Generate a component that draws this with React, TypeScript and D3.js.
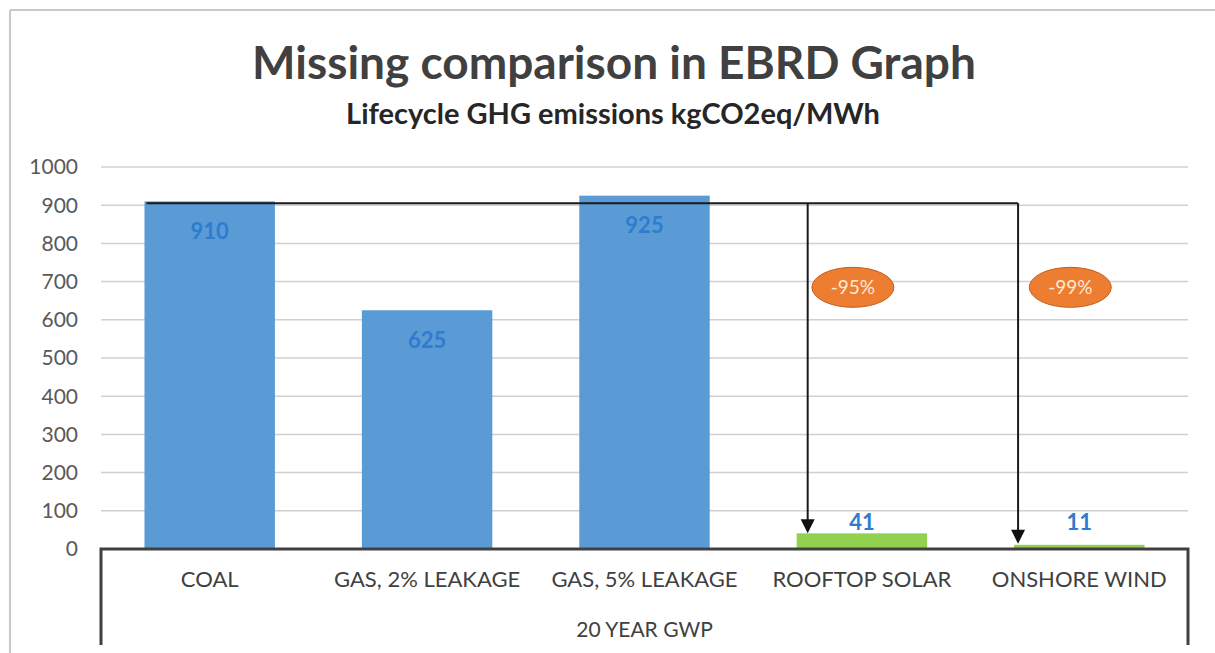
import React from "react";
import * as d3 from "d3";

const categories = ["COAL", "GAS, 2% LEAKAGE", "GAS, 5% LEAKAGE", "ROOFTOP SOLAR", "ONSHORE WIND"];
const values = [910, 625, 925, 41, 11];
const barColors = ["#5B9BD5", "#5B9BD5", "#5B9BD5", "#92D050", "#92D050"];
const yTicks = [0, 100, 200, 300, 400, 500, 600, 700, 800, 900, 1000];
const reductions = [
  { from: "COAL", to: "ROOFTOP SOLAR", label: "-95%" },
  { from: "COAL", to: "ONSHORE WIND", label: "-99%" },
];
const groupLabel = "20 YEAR GWP";
const title = "Missing comparison in EBRD Graph";
const subtitle = "Lifecycle GHG emissions kgCO2eq/MWh";

const W = 1215;
const H = 653;
const font = "Lato, Calibri, 'Open Sans', sans-serif";
const arrowOffsets = [11, 4];

export default function App() {
  const left = 101;
  const right = 1188;
  const y = d3.scaleLinear().domain([0, 1000]).range([549, 167]);
  const x = d3.scaleBand().domain(categories).range([left, right]).paddingInner(0.4).paddingOuter(0.2);
  const bw = x.bandwidth();
  const connectorY = y(905);
  const coalX = x("COAL")!;

  return (
    <svg width={W} height={H} style={{ position: "absolute", left: 0, top: 0 }} fontFamily={font}>
      <rect x={0} y={0} width={W} height={H} fill="#fff" />
      {/* outer chart border */}
      <line x1={10} y1={10} x2={W} y2={10} stroke="#c8c8c8" strokeWidth={2} />
      <line x1={10} y1={10} x2={10} y2={H} stroke="#c8c8c8" strokeWidth={2} />

      {/* titles */}
      <text x={614} y={79} textAnchor="middle" fontSize={46} fontWeight={700} fill="#404040">{title}</text>
      <text x={613} y={124} textAnchor="middle" fontSize={29} fontWeight={700} fill="#262626">{subtitle}</text>

      {/* gridlines */}
      {yTicks.filter((t) => t > 0).map((t) => (
        <line key={t} x1={left} x2={right} y1={y(t)} y2={y(t)} stroke="#d0d0d0" strokeWidth={1.5} />
      ))}
      {/* y tick labels */}
      {yTicks.map((t) => (
        <text key={t} x={78} y={y(t)} dy="0.35em" textAnchor="end" fontSize={21} fill="#595959">{t}</text>
      ))}

      {/* bars */}
      {categories.map((c, i) => (
        <rect key={c} x={x(c)} y={y(values[i])} width={bw} height={y(0) - y(values[i])} fill={barColors[i]} />
      ))}

      {/* data labels */}
      {categories.map((c, i) => {
        const inside = values[i] > 100;
        const ly = inside ? y(values[i]) + 30 : y(Math.max(values[i], 41)) - 11;
        return (
          <text key={c} x={x(c)! + bw / 2} y={ly} dy="0.35em" textAnchor="middle" fontSize={22} fontWeight={700} fill="#2E7BCF">{values[i]}</text>
        );
      })}

      {/* connector line and arrows */}
      {(() => {
        const xs = reductions.map((r, k) => x(r.to)! + arrowOffsets[k]);
        const maxX = d3.max(xs)!;
        return (
          <g>
            <line x1={coalX + 2} x2={maxX} y1={connectorY} y2={connectorY} stroke="#1a1a1a" strokeWidth={2} />
            {reductions.map((r, k) => {
              const ax = xs[k];
              const idx = categories.indexOf(r.to);
              const tipY = y(values[idx]) - (values[idx] > 20 ? 0 : 1);
              return (
                <g key={r.to}>
                  <line x1={ax} x2={ax} y1={connectorY} y2={tipY - 10} stroke="#1a1a1a" strokeWidth={2} />
                  <path d={`M${ax - 7},${tipY - 14} L${ax + 7},${tipY - 14} L${ax},${tipY} Z`} fill="#111" />
                  <ellipse cx={x(r.to)! + bw / 2 - 9} cy={y(685)} rx={41} ry={20} fill="#ED7D31" stroke="#C0601F" strokeWidth={1} />
                  <text x={x(r.to)! + bw / 2 - 9} y={y(685)} dy="0.35em" textAnchor="middle" fontSize={19} fill="#FDE9D9">{r.label}</text>
                </g>
              );
            })}
          </g>
        );
      })()}

      {/* category axis box */}
      <path d={`M${left},645 L${left},${y(0)} L${right},${y(0)} L${right},645`} fill="none" stroke="#404040" strokeWidth={3} />
      {categories.map((c) => (
        <text key={c} x={x(c)! + bw / 2} y={579} dy="0.35em" textAnchor="middle" fontSize={22} fill="#404040">{c}</text>
      ))}
      <text x={(left + right) / 2} y={630} dy="0.35em" textAnchor="middle" fontSize={21} fill="#404040">{groupLabel}</text>
    </svg>
  );
}
